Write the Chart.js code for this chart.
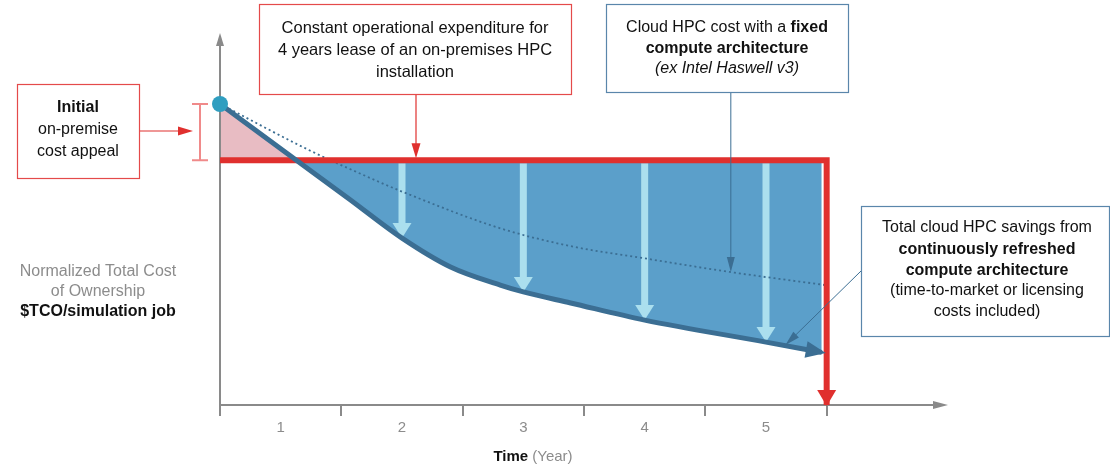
<!DOCTYPE html>
<html>
<head>
    <title>Cloud HPC vs on-premise TCO</title>
    <script src="https://cdn.jsdelivr.net/npm/chart.js"></script>
    <style>
        body { margin: 0; background: #fff; font-family: "Liberation Sans", Arial, sans-serif; }
        #wrap { width: 1110px; height: 470px; }
    </style>
</head>
<body>
    <div id="wrap"><canvas id="tcoChart"></canvas></div>

    <script>
        // Values: x in years, y in % of the on-premise operational cost
        const yearLabels = ['1', '2', '3', '4', '5'];
        const yearLabelPos = [0.5, 1.5, 2.5, 3.5, 4.5];
        const leaseX = [0, 5, 5];
        const leaseY = [100, 100, 0];
        const initialCost = 123;
        const cloudX = [0, 0.52, 1.07, 1.5, 1.9, 2.31, 2.5, 2.89, 3.5, 4.5, 4.96];
        const cloudY = [123, 104, 84, 68.2, 56.4, 49, 46.2, 41.7, 34.7, 25.7, 21.5];
        const fixedX = [0, 0.74, 1.24, 1.51, 2.31, 2.89, 3.49, 4.21, 4.99];
        const fixedY = [123, 104, 92.7, 87, 72.2, 64.9, 60, 54.3, 49];
        const savingsX = [1.5, 2.5, 3.5, 4.5];
        const savingsTo = [68.2, 46.2, 34.7, 25.7];

        const RED = '#e0302e';
        const BOX_RED = '#e44a4a';
        const DARK_BLUE = '#3b6e93';
        const BOX_BLUE = '#5a86ab';
        const FONT = '"Liberation Sans", Arial, sans-serif';

        const pts = (xs, ys) => xs.map((x, i) => ({ x: x, y: ys[i] }));

        function head(ctx, x1, y1, x2, y2, len, width, color) {
            const a = Math.atan2(y2 - y1, x2 - x1);
            ctx.save();
            ctx.translate(x2, y2);
            ctx.rotate(a);
            ctx.beginPath();
            ctx.moveTo(0, 0);
            ctx.lineTo(-len, -width / 2);
            ctx.lineTo(-len, width / 2);
            ctx.closePath();
            ctx.fillStyle = color;
            ctx.fill();
            ctx.restore();
        }

        function arrow(ctx, x1, y1, x2, y2, lw, len, width, color) {
            const d = Math.hypot(x2 - x1, y2 - y1);
            const ex = x2 - (x2 - x1) / d * len * 0.7;
            const ey = y2 - (y2 - y1) / d * len * 0.7;
            ctx.save();
            ctx.strokeStyle = color;
            ctx.lineWidth = lw;
            ctx.beginPath();
            ctx.moveTo(x1, y1);
            ctx.lineTo(ex, ey);
            ctx.stroke();
            ctx.restore();
            head(ctx, x1, y1, x2, y2, len, width, color);
        }

        // draw one line made of runs [text, weight/style, colour], centred on cx
        function runs(ctx, parts, cx, y, size) {
            let total = 0;
            parts.forEach(p => {
                ctx.font = p[1] + ' ' + size + 'px ' + FONT;
                total += ctx.measureText(p[0]).width;
            });
            let x = cx - total / 2;
            ctx.textAlign = 'left';
            ctx.textBaseline = 'middle';
            parts.forEach(p => {
                ctx.font = p[1] + ' ' + size + 'px ' + FONT;
                ctx.fillStyle = p[2] || '#111';
                ctx.fillText(p[0], x, y);
                x += ctx.measureText(p[0]).width;
            });
        }

        function box(ctx, x, y, w, h, color) {
            ctx.save();
            ctx.fillStyle = '#fff';
            ctx.fillRect(x, y, w, h);
            ctx.strokeStyle = color;
            ctx.lineWidth = 1.2;
            ctx.strokeRect(x + 0.5, y + 0.5, w, h);
            ctx.restore();
        }

        const axesPlugin = {
            id: 'axesAndArrows',
            beforeDatasetsDraw(chart) {
                const ctx = chart.ctx;
                const xs = chart.scales.x, ys = chart.scales.y;
                const x0 = xs.getPixelForValue(0), y0 = ys.getPixelForValue(0);
                const top = chart.chartArea.top, right = chart.chartArea.right;

                // savings arrows
                savingsX.forEach((v, i) => {
                    const px = xs.getPixelForValue(v);
                    arrow(ctx, px, ys.getPixelForValue(100) + 3, px, ys.getPixelForValue(savingsTo[i]), 7, 15, 19, '#abdfee');
                });

                // axes
                ctx.save();
                ctx.strokeStyle = '#8a8a8a';
                ctx.lineWidth = 2;
                ctx.beginPath();
                ctx.moveTo(x0, y0);
                ctx.lineTo(x0, top + 8);
                ctx.moveTo(x0, y0);
                ctx.lineTo(right - 8, y0);
                for (let t = 0; t <= 5; t++) {
                    const px = Math.round(xs.getPixelForValue(t));
                    ctx.moveTo(px, y0);
                    ctx.lineTo(px, y0 + 11);
                }
                ctx.stroke();
                ctx.restore();
                head(ctx, x0, y0, x0, top, 13, 8, '#8a8a8a');
                head(ctx, x0, y0, right, y0, 15, 8, '#8a8a8a');

                ctx.save();
                ctx.font = '15px ' + FONT;
                ctx.fillStyle = '#8c8c8c';
                ctx.textAlign = 'center';
                ctx.textBaseline = 'middle';
                yearLabels.forEach((l, i) => ctx.fillText(l, xs.getPixelForValue(yearLabelPos[i]), y0 + 23));
                ctx.restore();
                runs(ctx, [['Time', 'bold', '#111'], [' (Year)', 'normal', '#8c8c8c']], 533, 457, 15);
            },
            afterDatasetsDraw(chart) {
                const ctx = chart.ctx;
                const xs = chart.scales.x, ys = chart.scales.y;

                // end of lease drop
                head(ctx, xs.getPixelForValue(5), ys.getPixelForValue(100), xs.getPixelForValue(5), ys.getPixelForValue(0) + 1, 16, 19, RED);

                // cloud curve arrowhead
                const n = cloudX.length;
                const ax = xs.getPixelForValue(cloudX[n - 3]), ay = ys.getPixelForValue(cloudY[n - 3]);
                const bx = xs.getPixelForValue(cloudX[n - 1]), by = ys.getPixelForValue(cloudY[n - 1]);
                const d = Math.hypot(bx - ax, by - ay);
                head(ctx, ax, ay, bx + (bx - ax) / d * 4, by + (by - ay) / d * 4, 20, 17, DARK_BLUE);
            },
            afterDraw(chart) {
                const ctx = chart.ctx;
                const xs = chart.scales.x, ys = chart.scales.y;
                const yTop = ys.getPixelForValue(initialCost), yLease = ys.getPixelForValue(100);

                // initial cost range bar
                ctx.save();
                ctx.strokeStyle = '#f08a8a';
                ctx.lineWidth = 2;
                ctx.beginPath();
                ctx.moveTo(200, yTop); ctx.lineTo(200, yLease);
                ctx.moveTo(192, yTop); ctx.lineTo(208, yTop);
                ctx.moveTo(192, yLease); ctx.lineTo(208, yLease);
                ctx.stroke();
                ctx.restore();

                // Initial box
                box(ctx, 17, 84, 122, 94, BOX_RED);
                runs(ctx, [['Initial', 'bold']], 78, 108, 16);
                runs(ctx, [['on-premise', 'normal']], 78, 130, 16);
                runs(ctx, [['cost appeal', 'normal']], 78, 152, 16);
                arrow(ctx, 140, 131, 193, 131, 1.2, 15, 9, RED);

                // lease box
                box(ctx, 259, 4, 312, 90, BOX_RED);
                runs(ctx, [['Constant operational expenditure for', 'normal']], 415, 28, 16.5);
                runs(ctx, [['4 years lease of an on-premises HPC', 'normal']], 415, 50, 16.5);
                runs(ctx, [['installation', 'normal']], 415, 72, 16.5);
                arrow(ctx, 416, 95, 416, yLease - 2, 1.2, 15, 9, RED);

                // fixed architecture box
                box(ctx, 606, 4, 242, 88, BOX_BLUE);
                runs(ctx, [['Cloud HPC cost with a ', 'normal'], ['fixed', 'bold']], 727, 28, 16);
                runs(ctx, [['compute architecture', 'bold']], 727, 49, 16);
                runs(ctx, [['(ex Intel Haswell v3)', 'italic']], 727, 69, 16);
                const fx = xs.getPixelForValue(4.21), fy = ys.getPixelForValue(54.3);
                arrow(ctx, fx, 93, fx, fy, 1, 15, 8, DARK_BLUE);

                // savings box
                box(ctx, 861, 206, 248, 130, BOX_BLUE);
                runs(ctx, [['Total cloud HPC savings from', 'normal']], 987, 228, 16);
                runs(ctx, [['continuously refreshed', 'bold']], 987, 250, 16);
                runs(ctx, [['compute architecture', 'bold']], 987, 271, 16);
                runs(ctx, [['(time-to-market or licensing', 'normal']], 987, 291, 16);
                runs(ctx, [['costs included)', 'normal']], 987, 312, 16);
                arrow(ctx, 861, 271, xs.getPixelForValue(4.66), ys.getPixelForValue(24.5), 1, 15, 8, DARK_BLUE);

                // y axis title
                runs(ctx, [['Normalized Total Cost', 'normal', '#8c8c8c']], 98, 272, 16);
                runs(ctx, [['of Ownership', 'normal', '#8c8c8c']], 98, 292, 16);
                runs(ctx, [['$TCO/simulation job', 'bold', '#111']], 98, 312, 16);
            }
        };

        new Chart(document.getElementById('tcoChart'), {
            type: 'line',
            data: {
                datasets: [
                    {
                        label: 'Initial cost',
                        data: [{ x: 0, y: initialCost }],
                        showLine: false,
                        pointRadius: 8,
                        pointBackgroundColor: '#2f9ec0',
                        pointBorderWidth: 0,
                        order: 0,
                        clip: false
                    },
                    {
                        label: 'Cloud HPC, refreshed architecture',
                        data: pts(cloudX, cloudY),
                        borderColor: DARK_BLUE,
                        borderWidth: 5,
                        pointRadius: 0,
                        cubicInterpolationMode: 'monotone',
                        fill: { target: { value: 100 }, above: '#e8bcc3', below: '#5b9fca' },
                        order: 1
                    },
                    {
                        label: 'On-premise lease',
                        data: pts(leaseX, leaseY),
                        borderColor: RED,
                        borderWidth: 6,
                        borderJoinStyle: 'miter',
                        pointRadius: 0,
                        tension: 0,
                        fill: false,
                        order: 2,
                        clip: { left: 0, top: 10, right: 10, bottom: 0 }
                    },
                    {
                        label: 'Cloud HPC, fixed architecture',
                        data: pts(fixedX, fixedY),
                        borderColor: DARK_BLUE,
                        borderWidth: 1.8,
                        borderDash: [2, 3],
                        pointRadius: 0,
                        cubicInterpolationMode: 'monotone',
                        fill: false,
                        order: 3
                    }
                ]
            },
            options: {
                responsive: true,
                maintainAspectRatio: false,
                animation: false,
                layout: { padding: { left: 220, right: 162, top: 33, bottom: 65 } },
                scales: {
                    x: { type: 'linear', min: 0, max: 6, display: false },
                    y: { type: 'linear', min: 0, max: 152, display: false }
                },
                plugins: {
                    legend: { display: false },
                    tooltip: { enabled: false },
                    filler: { drawTime: 'beforeDatasetsDraw' }
                }
            },
            plugins: [axesPlugin]
        });
    </script>
</body>
</html>
